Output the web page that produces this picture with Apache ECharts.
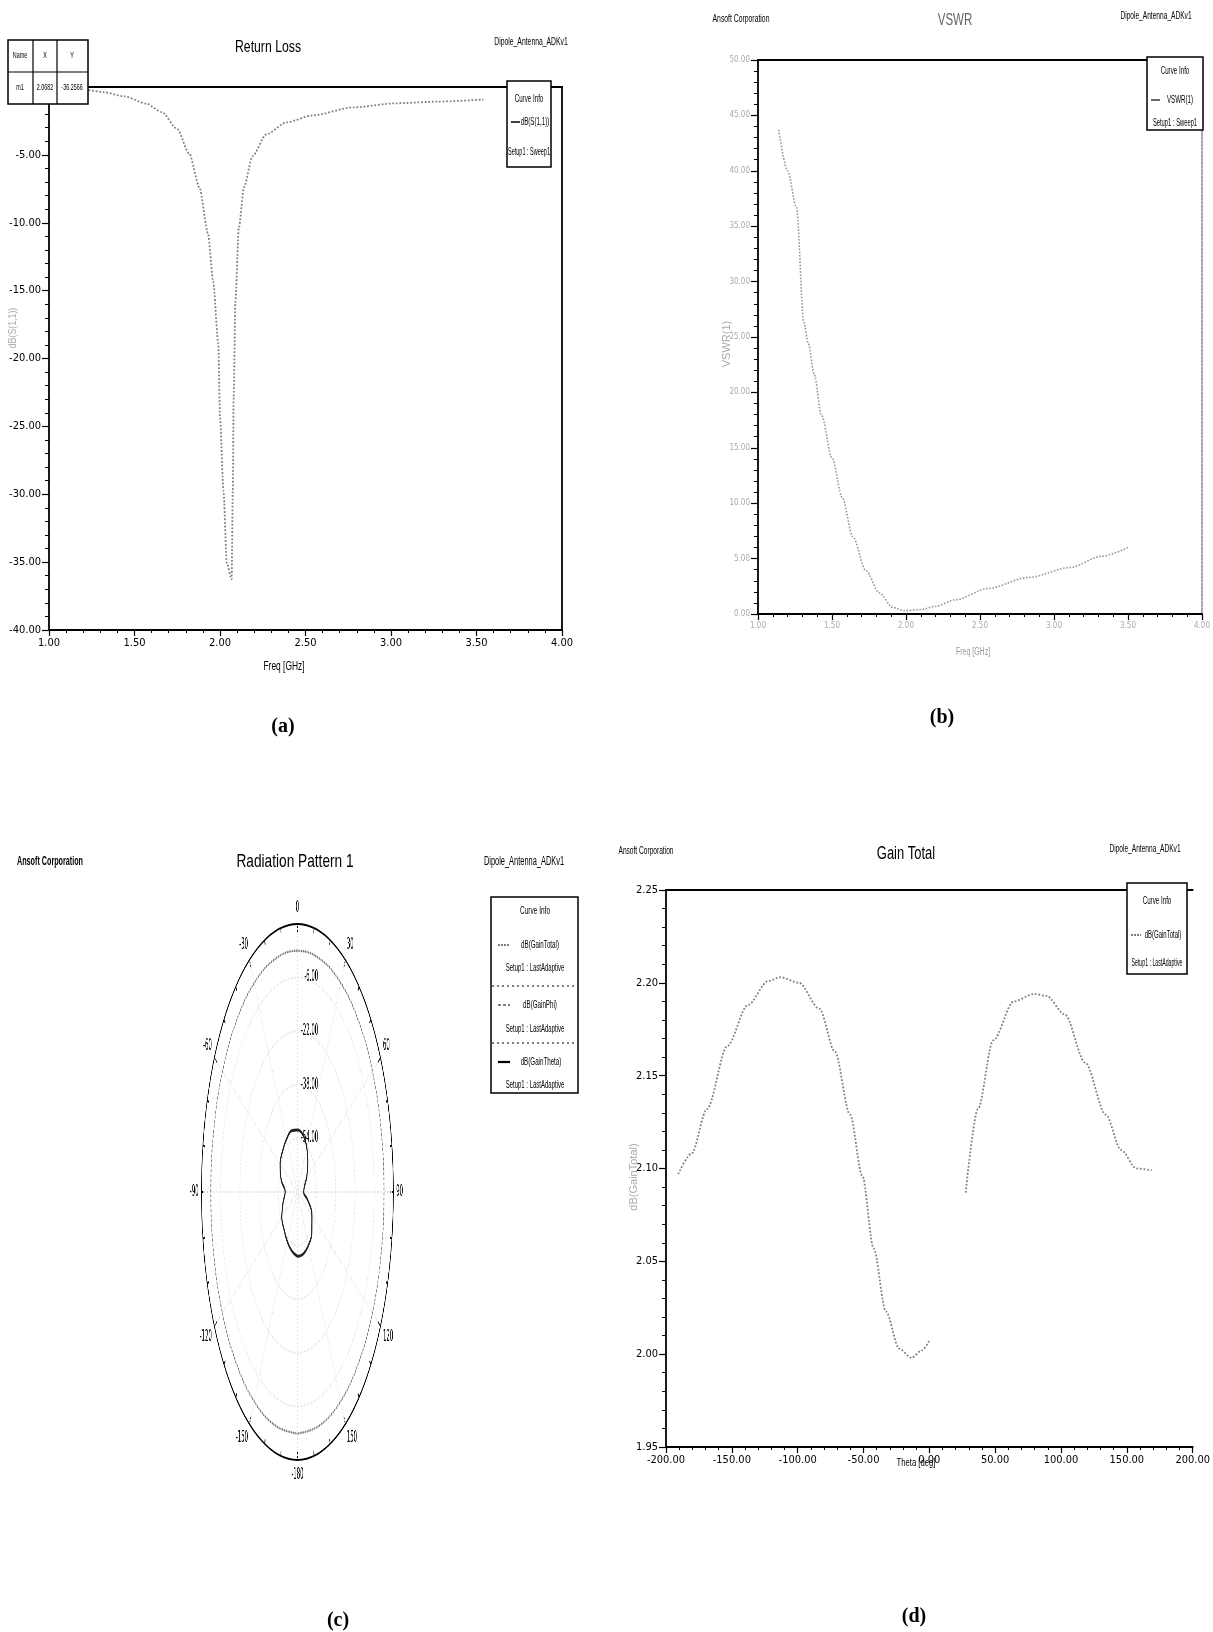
<!DOCTYPE html>
<html>
<head>
<meta charset="UTF-8">
<title>Dipole antenna simulation</title>
<script src="https://cdn.jsdelivr.net/npm/echarts@6/dist/echarts.min.js"></script>
<style>
html, body { margin: 0; padding: 0; background: #fff; }
#main { position: absolute; left: 0; top: 0; width: 1213px; height: 1632px; }
#polar { position: absolute; left: 190px; top: 892px; width: 600px; height: 600px;
         transform-origin: 0 0; transform: scaleX(0.358); }
</style>
</head>
<body>
<div id="main"></div>
<div id="polar"></div>
<script>
// (a) Return Loss, dB(S(1,1)) vs Freq [GHz]
var freqA = [1.00, 1.10, 1.23, 1.32, 1.44, 1.57, 1.66, 1.75, 1.82, 1.88, 1.93, 1.96, 1.99, 2.00, 2.02, 2.04,
             2.068, 2.075, 2.08, 2.09, 2.11, 2.14, 2.19, 2.27, 2.39, 2.54, 2.78, 3.03, 3.27, 3.54];
var rlA = [-0.10, -0.15, -0.23, -0.38, -0.69, -1.23, -1.85, -3.1, -4.9, -7.4, -10.8, -14.3, -18.9, -24.3, -29.7, -35.1,
           -36.26, -29.7, -22.8, -15.8, -10.4, -7.4, -5.1, -3.5, -2.6, -2.1, -1.5, -1.2, -1.08, -0.92];
var markerA = ['m1', '2.0682', '-36.2566'];

// (b) VSWR(1) vs Freq [GHz]
var freqB = [1.14, 1.20, 1.26, 1.31, 1.34, 1.38, 1.43, 1.50, 1.57, 1.64, 1.73, 1.82, 1.91, 1.99,
             2.10, 2.20, 2.34, 2.55, 2.83, 3.11, 3.32, 3.50];
var vswrB = [43.7, 40.0, 36.7, 26.3, 24.4, 21.6, 17.9, 14.1, 10.5, 7.0, 3.9, 1.9, 0.6, 0.3,
             0.4, 0.7, 1.3, 2.3, 3.3, 4.2, 5.2, 6.0];

// (c) Radiation Pattern 1 (theta in deg, gains in dB)
var thetaC = [-180, -165, -150, -135, -120, -105, -90, -75, -60, -45, -30, -15, 0,
              15, 30, 45, 60, 75, 90, 105, 120, 135, 150, 165, 180];
var gainTotalC = [2.10, 2.12, 2.16, 2.19, 2.20, 2.20, 2.19, 2.16, 2.13, 2.06, 2.02, 2.00, 2.01,
                  2.05, 2.09, 2.14, 2.18, 2.19, 2.19, 2.18, 2.16, 2.13, 2.11, 2.10, 2.10];
var gainThetaC = [2.09, 2.11, 2.15, 2.18, 2.19, 2.19, 2.18, 2.15, 2.12, 2.05, 2.01, 1.99, 2.00,
                  2.04, 2.08, 2.13, 2.17, 2.18, 2.18, 2.17, 2.15, 2.12, 2.10, 2.09, 2.09];
var gainPhiC = [-50.8, -51.8, -53.0, -54.2, -55.0, -57.6, -59.8, -56.0, -53.4, -52.6, -51.8, -51.1, -51.5,
                -52.3, -54.5, -57.8, -61.0, -64.0, -64.8, -61.3, -56.0, -53.0, -51.6, -50.9, -50.8];

// (d) Gain Total, dB(GainTotal) vs Theta [deg]
var thetaD = [-190.7, -180.6, -168.9, -153.4, -137.9, -122.3, -113.0, -99.0, -83.5, -71.8, -60.2, -50.9,
              -42.3, -33.0, -22.9, -13.6, -5.8, -0.2, 14.0, 27.6, 36.9, 48.5, 64.1, 79.6, 88.9,
              102.9, 118.4, 134.0, 145.6, 157.3, 168.9];
var gainD = [2.097, 2.108, 2.132, 2.166, 2.188, 2.201, 2.203, 2.200, 2.186, 2.163, 2.129, 2.096,
             2.057, 2.023, 2.003, 1.998, 2.002, 2.007, null, 2.087, 2.132, 2.169, 2.190, 2.194, 2.193,
             2.183, 2.157, 2.129, 2.110, 2.100, 2.099];

var FN = "'Liberation Sans Narrow','DejaVu Sans Condensed','Arial Narrow',sans-serif";
var FS = "'Liberation Sans',Arial,sans-serif";

function pairs(xs, ys) {
    return xs.map(function (x, i) { return [x, ys[i] == null ? '-' : ys[i]]; });
}
function polarPairs(ang, vals) {
    return ang.map(function (t, i) { return [vals[i], t < 0 ? t + 360 : t]; });
}
function T(x, y, s, size, o) {
    o = o || {};
    return {
        type: 'text', x: x, y: y, z: 100, rotation: o.rot || 0, scaleX: o.sx || 1,
        style: {
            text: s, fill: o.color || '#000',
            font: (o.weight || 'normal') + ' ' + size + 'px ' + (o.family || FS),
            align: o.align || 'center', verticalAlign: 'middle'
        }
    };
}
function R(x, y, w, h, lw) {
    return { type: 'rect', z: 90, shape: { x: x, y: y, width: w, height: h },
             style: { fill: '#fff', stroke: '#000', lineWidth: lw || 1.2 } };
}
function L(x1, y1, x2, y2, lw, dash, col) {
    return { type: 'line', z: 100, shape: { x1: x1, y1: y1, x2: x2, y2: y2 },
             style: { stroke: col || '#000', lineWidth: lw || 1, lineDash: dash || null } };
}

function fix2(v) { return v.toFixed(2); }

function baseX(grid, min, max, step, labelColor, labelSize) {
    return {
        type: 'value', gridIndex: grid, min: min, max: max, interval: step,
        axisLine: { onZero: false, lineStyle: { color: '#000', width: 1.8 } },
        axisTick: { length: 6, lineStyle: { color: '#000', width: 1.2 } },
        minorTick: { show: true, splitNumber: 5, length: 3, lineStyle: { color: '#000' } },
        axisLabel: { formatter: fix2, color: labelColor || '#000', fontSize: labelSize || 11,
                     fontFamily: FN, margin: 8 },
        splitLine: { show: false }
    };
}
function baseY(grid, min, max, step, labelColor, labelSize, fmt) {
    var a = baseX(grid, min, max, step, labelColor, labelSize);
    a.minorTick.length = 4;
    a.axisTick.length = 7;
    if (fmt) a.axisLabel.formatter = fmt;
    return a;
}
function border(grid, pos, min, max, color, dash) {
    return {
        type: 'value', gridIndex: grid, position: pos, min: min, max: max,
        axisLine: { show: true, onZero: false, lineStyle: { color: color || '#000', width: 1.8, type: dash || 'solid' } },
        axisTick: { show: false }, axisLabel: { show: false }, splitLine: { show: false }
    };
}

var chart = echarts.init(document.getElementById('main'));

var xA = baseX(0, 1, 4, 0.5);
var yA = baseY(0, -40, 0, 5, '#000', 11, function (v) { return v === 0 ? '' : v.toFixed(2); });
var xB = baseX(1, 1, 4, 0.5, '#aaa', 8);
var yB = baseY(1, 0, 50, 5, '#aaa', 8);
var xD = baseX(2, -200, 200, 50, '#000', 11);
var yD = baseY(2, 1.95, 2.25, 0.05, '#000', 11);

var graphics = [
    // (a) headers
    T(268, 47, 'Return Loss', 17, { sx: 0.72 }),
    T(531, 42, 'Dipole_Antenna_ADKv1', 11, { sx: 0.62 }),
    // (a) marker table
    R(8, 40, 80, 64, 1.5),
    L(33, 40, 33, 104, 1.2), L(57, 40, 57, 104, 1.2), L(8, 72, 88, 72, 1.2),
    T(20, 56, 'Name', 9, { sx: 0.6 }), T(45, 56, 'X', 9, { sx: 0.6 }), T(72, 56, 'Y', 9, { sx: 0.6 }),
    T(20, 88, markerA[0], 9, { sx: 0.6 }), T(45, 88, markerA[1], 9, { sx: 0.6 }), T(72, 88, markerA[2], 9, { sx: 0.6 }),
    // (a) legend
    R(507, 81, 44, 86, 1.5),
    T(529, 99, 'Curve Info', 10, { sx: 0.62 }),
    L(511, 122, 520, 122, 1.5),
    T(535, 122, 'dB(S(1,1))', 10, { sx: 0.62 }),
    T(529, 152, 'Setup1 : Sweep1', 10, { sx: 0.55 }),
    T(13, 328, 'dB(S(1,1))', 11, { rot: Math.PI / 2, color: '#aaa', sx: 0.8 }),
    T(284, 667, 'Freq [GHz]', 12, { sx: 0.7 }),
    T(283, 727, '(a)', 20, { weight: 'bold', family: "'Liberation Serif','DejaVu Serif',serif" }),

    // (b)
    T(741, 19, 'Ansoft Corporation', 11, { sx: 0.62 }),
    T(955, 21, 'VSWR', 16, { sx: 0.72, color: '#666' }),
    T(1156, 16, 'Dipole_Antenna_ADKv1', 11, { sx: 0.6 }),
    R(1147, 57, 56, 73, 1.5),
    T(1175, 71, 'Curve Info', 10, { sx: 0.62 }),
    L(1151, 100, 1160, 100, 1.2),
    T(1180, 100, 'VSWR(1)', 10, { sx: 0.62 }),
    T(1175, 123, 'Setup1 : Sweep1', 10, { sx: 0.58 }),
    T(727, 344, 'VSWR(1)', 11, { rot: Math.PI / 2, color: '#aaa' }),
    T(973, 652, 'Freq [GHz]', 10, { sx: 0.7, color: '#999' }),
    T(942, 718, '(b)', 20, { weight: 'bold', family: "'Liberation Serif','DejaVu Serif',serif" }),

    // (c)
    T(50, 862, 'Ansoft Corporation', 12, { sx: 0.6, weight: 'bold' }),
    T(295, 862, 'Radiation Pattern 1', 19, { sx: 0.72 }),
    T(524, 862, 'Dipole_Antenna_ADKv1', 12, { sx: 0.62 }),
    R(491, 897, 87, 196, 1.5),
    T(535, 911, 'Curve Info', 10, { sx: 0.65 }),
    L(498, 945, 510, 945, 1, [2, 1]),
    T(540, 945, 'dB(GainTotal)', 10, { sx: 0.62 }),
    T(535, 968, 'Setup1 : LastAdaptive', 10, { sx: 0.6 }),
    L(492, 986, 577, 986, 1, [2, 3]),
    L(498, 1005, 510, 1005, 1, [3, 2]),
    T(540, 1005, 'dB(GainPhi)', 10, { sx: 0.62 }),
    T(535, 1029, 'Setup1 : LastAdaptive', 10, { sx: 0.6 }),
    L(492, 1043, 577, 1043, 1, [2, 3]),
    L(498, 1062, 510, 1062, 2.2),
    T(541, 1062, 'dB(GainTheta)', 10, { sx: 0.62 }),
    T(535, 1085, 'Setup1 : LastAdaptive', 10, { sx: 0.6 }),
    T(338, 1621, '(c)', 20, { weight: 'bold', family: "'Liberation Serif','DejaVu Serif',serif" }),

    // (d)
    T(646, 851, 'Ansoft Corporation', 11, { sx: 0.6 }),
    T(906, 854, 'Gain Total', 18, { sx: 0.72 }),
    T(1145, 849, 'Dipole_Antenna_ADKv1', 11, { sx: 0.6 }),
    R(1127, 883, 60, 91, 1.5),
    T(1157, 901, 'Curve Info', 10, { sx: 0.62 }),
    L(1131, 935, 1141, 935, 1, [2, 1]),
    T(1163, 935, 'dB(GainTotal)', 10, { sx: 0.6 }),
    T(1157, 963, 'Setup1 : LastAdaptive', 10, { sx: 0.52 }),
    T(634, 1177, 'dB(GainTotal)', 11, { rot: Math.PI / 2, color: '#aaa' }),
    T(916, 1463, 'Theta [deg]', 11, { sx: 0.7 }),
    T(914, 1617, '(d)', 20, { weight: 'bold', family: "'Liberation Serif','DejaVu Serif',serif" })
];

var curveStyle = { color: '#808080', width: 1.8, type: 'dotted' };

chart.setOption({
    backgroundColor: '#fff',
    animation: false,
    grid: [
        { left: 49, top: 87, width: 513, height: 543 },
        { left: 758, top: 60, width: 447, height: 554 },
        { left: 666, top: 890, width: 537, height: 557 }
    ],
    xAxis: [xA, xB, xD,
        border(0, 'top', 1, 4),
        border(1, 'top', 1, 4),
        border(2, 'top', -200, 200)],
    yAxis: [yA, yB, yD,
        border(0, 'right', -40, 0),
        border(1, 'right', 0, 50, '#999', 'dotted')],
    graphic: { elements: graphics },
    series: [
        { type: 'line', name: 'dB(S(1,1))', xAxisIndex: 0, yAxisIndex: 0, data: pairs(freqA, rlA),
          symbol: 'none', smooth: 0.25, smoothMonotone: 'x', lineStyle: curveStyle },
        { type: 'line', name: 'VSWR(1)', xAxisIndex: 1, yAxisIndex: 1, data: pairs(freqB, vswrB),
          symbol: 'none', smooth: 0.3, smoothMonotone: 'x', lineStyle: { color: '#999', width: 1.6, type: 'dotted' } },
        { type: 'line', name: 'dB(GainTotal)', xAxisIndex: 2, yAxisIndex: 2, data: pairs(thetaD, gainD),
          symbol: 'none', smooth: 0.3, smoothMonotone: 'x', lineStyle: curveStyle }
    ]
});

var polar = echarts.init(document.getElementById('polar'));
polar.setOption({
    animation: false,
    polar: { center: [300, 300], radius: 268 },
    angleAxis: {
        type: 'value', min: 0, max: 360, interval: 30, startAngle: 90, clockwise: true,
        axisLine: { lineStyle: { color: '#000', width: 2 } },
        axisTick: { inside: true, length: 9, lineStyle: { color: '#000', width: 2 } },
        minorTick: { show: true, splitNumber: 3, length: 5, lineStyle: { color: '#000', width: 2 } },
        axisLabel: { formatter: function (v) { return v >= 180 ? v - 360 : v; },
                     fontSize: 15, color: '#000', fontFamily: 'DejaVu Sans', margin: 8 },
        splitLine: { show: true, lineStyle: { color: '#e4e4e4', type: 'dotted', width: 2 } }
    },
    radiusAxis: {
        min: -70, max: 10, interval: 16,
        axisLine: { show: false }, axisTick: { show: false },
        axisLabel: { formatter: function (v) { return (v <= -70 || v >= 10) ? '' : v.toFixed(2); },
                     fontSize: 15, color: '#000', fontFamily: 'DejaVu Sans', margin: -58 },
        splitLine: { show: true, lineStyle: { color: '#e4e4e4', type: 'dotted', width: 2 } }
    },
    series: [
        { type: 'line', coordinateSystem: 'polar', name: 'dB(GainTotal)', data: polarPairs(thetaC, gainTotalC),
          symbol: 'none', smooth: 0.4, lineStyle: { color: '#888', width: 2.5, type: 'dotted' } },
        { type: 'line', coordinateSystem: 'polar', name: 'dB(GainTheta)', data: polarPairs(thetaC, gainThetaC),
          symbol: 'none', smooth: 0.4, lineStyle: { color: '#555', width: 1.2, opacity: 0.35 } },
        { type: 'line', coordinateSystem: 'polar', name: 'dB(GainPhi)', data: polarPairs(thetaC, gainPhiC),
          symbol: 'none', smooth: 0.4, lineStyle: { color: '#222', width: 3 } }
    ]
});
</script>
</body>
</html>
